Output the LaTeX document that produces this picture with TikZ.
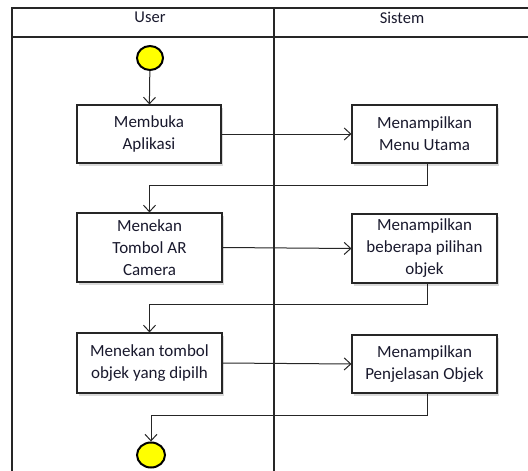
\documentclass[tikz,border=0pt]{standalone}
\usepackage{fontspec}
\setmainfont{Carlito}
\usetikzlibrary{arrows.meta,shadows,calc,shapes.geometric}
\definecolor{txt}{RGB}{25,25,45}
\definecolor{startfill}{RGB}{255,255,0}
\begin{document}
\begin{tikzpicture}[x=1pt,y=-1pt,
  lane/.style={draw=black!85,line width=1.1pt},
  actbox/.style={draw=black!85,line width=1.1pt,fill=white,rectangle,inner sep=0pt,
    align=center,text=txt,font=\fontsize{17}{22}\selectfont,
    drop shadow={shadow xshift=2pt,shadow yshift=-2.5pt,fill=black!25,opacity=0.6}},
  flow/.style={draw=black!85,line width=1pt},
  arr/.style={flow,-{Straight Barb[length=6.5pt,width=12pt,line width=1pt]}},
  dot/.style={ellipse,draw=black,line width=2pt,fill=startfill,inner sep=0pt},
  hdr/.style={text=txt,font=\fontsize{16.5}{19}\selectfont}]
\useasboundingbox (0,0) rectangle (528,471);
% swimlane frame
\coordinate (tl) at (12,8);
\coordinate (tr) at (528,8);
\coordinate (hl) at (12,37);
\coordinate (hr) at (528,37);
\coordinate (bl) at (12,471);
\coordinate (dt) at (274,8);
\coordinate (db) at (274,471);
\draw[lane] (tr) -- (tl) -- (bl);
\draw[lane] (hl) -- (hr);
\draw[lane] (dt) -- (db);
\node[hdr] (huser) at (150,17.5) {User};
\node[hdr] (hsis) at (402,17.5) {Sistem};
% start / end
\node[dot,minimum width=26pt,minimum height=24pt] (start) at (150,58) {};
\node[dot,minimum width=28pt,minimum height=25pt] (end) at (151,455) {};
% boxes
\node[actbox,minimum width=144pt,minimum height=58pt] (b1) at (149,134) {Membuka\\Aplikasi};
\node[actbox,minimum width=145pt,minimum height=58pt] (b2) at (424.5,134) {Menampilkan\\Menu Utama};
\node[actbox,minimum width=145pt,minimum height=69pt] (b3) at (149.5,247.5) {Menekan\\Tombol AR\\Camera};
\node[actbox,minimum width=145pt,minimum height=69pt] (b4) at (424.5,248.5) {Menampilkan\\beberapa pilihan\\objek};
\node[actbox,minimum width=145pt,minimum height=60pt] (b5) at (149.5,363) {Menekan tombol\\objek yang dipilh};
\node[actbox,minimum width=145pt,minimum height=58pt] (b6) at (424.5,364) {Menampilkan\\Penjelasan Objek};
% turn points
\coordinate (t1) at (427,185);
\coordinate (t2) at (427,304);
\coordinate (t3) at (427,415);
% connectors
\draw[arr] (start) -- (b1);
\draw[arr] (b1.east) -- (b2.west);
\draw[arr] (b2.south -| t1) -- (t1) -| (b3.north);
\draw[arr] (b3.east) -- (b4.west);
\draw[arr] (b4.south -| t2) -- (t2) -| (b5.north);
\draw[arr] (b5.east) -- (b6.west);
\draw[arr] (b6.south -| t3) -- (t3) -| (end.north);
\end{tikzpicture}
\end{document}
